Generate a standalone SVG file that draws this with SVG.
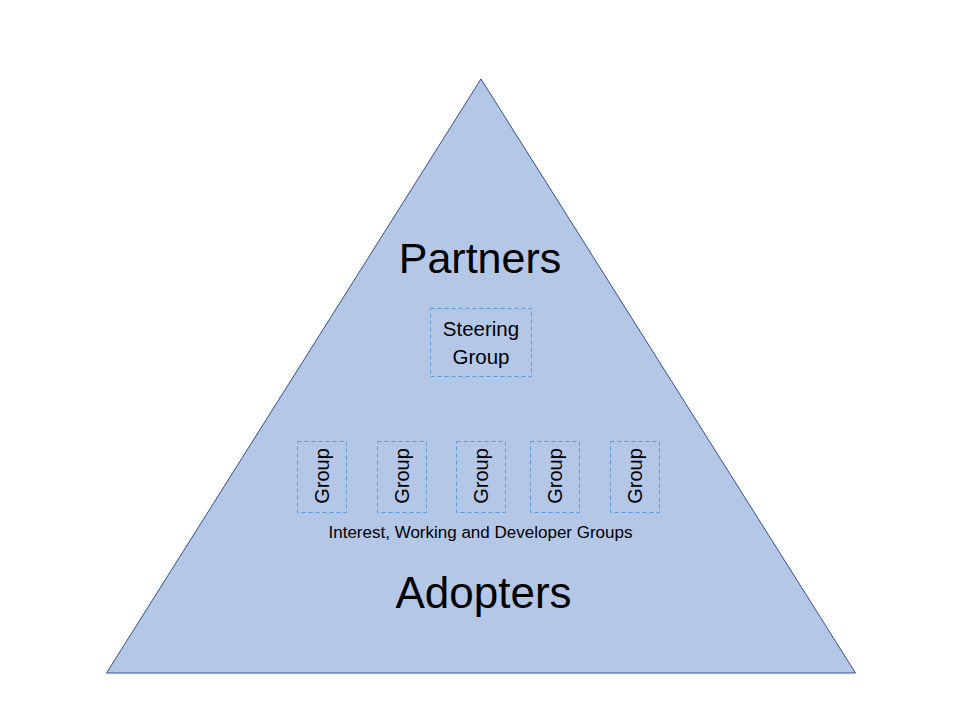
<svg xmlns="http://www.w3.org/2000/svg" width="960" height="720" viewBox="0 0 960 720">
<style>
.tri{fill:#B4C7E7;stroke:#2F528F;stroke-width:1}
.box{fill:none;stroke:#5B9BD5;stroke-width:1;stroke-dasharray:4 3}
text{font-family:"Liberation Sans",Arial,sans-serif;fill:#000}
.big{font-size:43px;text-anchor:middle}
.ad{font-size:44px;text-anchor:middle}
.mid{font-size:20.5px;text-anchor:middle}
.grp{font-size:20px;text-anchor:middle}
.sm{font-size:17px;text-anchor:middle}
</style>
<rect width="960" height="720" fill="#fff"/>
<g id="pyramid">
<polygon class="tri" points="481,79 855.5,673 106.5,673"/>
</g>
<g id="partners"><text class="big" x="480" y="273">Partners</text></g>
<g id="steering">
<rect class="box" x="430.5" y="308.5" width="101" height="68"/>
<text class="mid" x="481" y="336">Steering</text>
<text class="mid" x="481" y="364">Group</text>
</g>
<g id="group1">
<rect class="box" x="297.5" y="441.5" width="49" height="71"/>
<text class="grp" transform="translate(329,476) rotate(-90)">Group</text>
</g>
<g id="group2">
<rect class="box" x="377.5" y="441.5" width="49" height="71"/>
<text class="grp" transform="translate(409,476) rotate(-90)">Group</text>
</g>
<g id="group3">
<rect class="box" x="456.5" y="441.5" width="49" height="71"/>
<text class="grp" transform="translate(488,476) rotate(-90)">Group</text>
</g>
<g id="group4">
<rect class="box" x="530.5" y="441.5" width="49" height="71"/>
<text class="grp" transform="translate(562,476) rotate(-90)">Group</text>
</g>
<g id="group5">
<rect class="box" x="610.5" y="441.5" width="49" height="71"/>
<text class="grp" transform="translate(642,476) rotate(-90)">Group</text>
</g>
<g id="groups-label"><text class="sm" x="480.5" y="538">Interest, Working and Developer Groups</text></g>
<g id="adopters"><text class="ad" x="483.5" y="608">Adopters</text></g>
<g id="connectors"></g>
</svg>
